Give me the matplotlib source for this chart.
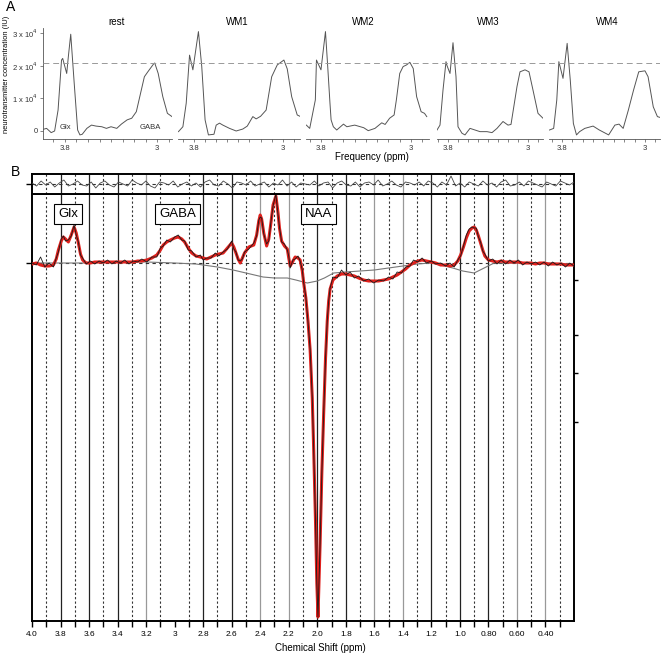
import numpy as np
import matplotlib.pyplot as plt
from matplotlib.ticker import MultipleLocator

plt.rcParams['font.family'] = ['Liberation Sans', 'DejaVu Sans']

# ---------------- panel A data (x 10^4 IU vs ppm) ----------------
conditions = ['rest', 'WM1', 'WM2', 'WM3', 'WM4']

rest_ppm = [3.99, 3.96, 3.92, 3.89, 3.86, 3.83, 3.82, 3.785, 3.77, 3.75, 3.72, 3.69, 3.67, 3.65, 3.61,
            3.57, 3.53, 3.48, 3.44, 3.40, 3.35, 3.31, 3.26, 3.22, 3.18, 3.15, 3.11, 3.08, 3.03, 3.02,
            2.99, 2.95, 2.91, 2.87]
rest_val = [0.05, 0.08, -0.05, 0.0, 0.64, 2.17, 2.22, 1.76, 2.3, 2.96, 1.47, 0.03, -0.12, -0.10, 0.08,
            0.18, 0.15, 0.13, 0.08, 0.13, 0.08, 0.21, 0.34, 0.39, 0.59, 1.05, 1.66, 1.81, 2.05, 2.08,
            1.76, 1.05, 0.54, 0.44]

wm1_ppm = [3.94, 3.90, 3.87, 3.84, 3.81, 3.76, 3.73, 3.70, 3.67, 3.62, 3.60, 3.57, 3.54, 3.48, 3.42,
           3.36, 3.32, 3.27, 3.24, 3.20, 3.15, 3.10, 3.05, 2.99, 2.96, 2.92, 2.87, 2.84]
wm1_val = [-0.02, 0.13, 0.85, 2.32, 1.87, 3.04, 1.97, 0.34, -0.12, -0.10, 0.18, 0.24, 0.18, 0.08, 0.0,
           0.06, 0.15, 0.44, 0.37, 0.45, 0.64, 1.66, 2.02, 2.17, 1.90, 1.05, 0.49, 0.44]

wm2_ppm = [3.93, 3.90, 3.85, 3.84, 3.80, 3.76, 3.74, 3.72, 3.71, 3.69, 3.66, 3.60, 3.57, 3.50, 3.42,
           3.38, 3.32, 3.26, 3.23, 3.19, 3.15, 3.13, 3.10, 3.07, 3.04, 3.01, 2.98, 2.95, 2.91, 2.88, 2.86]
wm2_val = [0.18, 0.08, 0.95, 2.17, 1.87, 3.04, 1.97, 0.85, 0.34, 0.13, 0.03, 0.21, 0.13, 0.18, 0.10,
           0.01, 0.08, 0.25, 0.20, 0.39, 0.49, 0.95, 1.76, 1.97, 2.02, 2.10, 1.91, 1.05, 0.59, 0.54, 0.44]

wm3_ppm = [3.91, 3.88, 3.85, 3.82, 3.81, 3.78, 3.75, 3.72, 3.70, 3.66, 3.63, 3.58, 3.53, 3.48, 3.41,
           3.36, 3.31, 3.25, 3.20, 3.17, 3.11, 3.08, 3.03, 2.99, 2.95, 2.90, 2.85]
wm3_val = [0.03, 0.18, 1.25, 2.12, 2.0, 1.76, 2.7, 1.66, 0.13, -0.07, -0.12, 0.08, 0.03, -0.02, -0.02,
           -0.05, 0.08, 0.29, 0.18, 0.20, 1.36, 1.81, 1.87, 1.81, 1.25, 0.54, 0.39]

wm4_ppm = [3.92, 3.88, 3.85, 3.83, 3.79, 3.75, 3.72, 3.69, 3.66, 3.63, 3.58, 3.50, 3.44, 3.35, 3.29,
           3.25, 3.21, 3.16, 3.11, 3.06, 3.00, 2.97, 2.92, 2.88, 2.85]
wm4_val = [0.03, 0.08, 0.95, 2.12, 1.61, 2.68, 1.56, 0.23, -0.12, -0.02, 0.08, 0.15, 0.03, -0.12, 0.18,
           0.21, 0.08, 0.64, 1.25, 1.81, 1.84, 1.66, 0.74, 0.44, 0.41]

a_ppm = [rest_ppm, wm1_ppm, wm2_ppm, wm3_ppm, wm4_ppm]
a_val = [rest_val, wm1_val, wm2_val, wm3_val, wm4_val]
ref_level = 2.08
a_yticks = [0, 1, 2, 3]
a_ylabels = ['0', r'1 x 10$^4$', r'2 x 10$^4$', r'3 x 10$^4$']

# ---------------- panel B data ----------------
fit_ppm = [4.00, 3.97, 3.94, 3.91, 3.88, 3.85, 3.83, 3.815, 3.795, 3.78,
           3.765, 3.745, 3.725, 3.705, 3.69, 3.675, 3.66, 3.645, 3.62, 3.59,
           3.56, 3.53, 3.50, 3.47, 3.44, 3.41, 3.38, 3.35, 3.32, 3.29,
           3.26, 3.23, 3.195, 3.16, 3.125, 3.10, 3.08, 3.055, 3.03, 3.00,
           2.975, 2.95, 2.93, 2.905, 2.88, 2.85, 2.82, 2.80, 2.775, 2.745,
           2.715, 2.69, 2.66, 2.63, 2.60, 2.585, 2.57, 2.555, 2.54, 2.525,
           2.51, 2.48, 2.445, 2.425, 2.41, 2.40, 2.39, 2.375, 2.355, 2.34,
           2.325, 2.31, 2.29, 2.275, 2.265, 2.25, 2.23, 2.21, 2.20, 2.19,
           2.17, 2.155, 2.135, 2.12, 2.105, 2.095, 2.08, 2.065, 2.05, 2.035,
           2.025, 2.012, 2.003, 1.995, 1.988, 1.98, 1.968, 1.955, 1.942, 1.93,
           1.92, 1.91, 1.89, 1.86, 1.83, 1.80, 1.77, 1.74, 1.71, 1.675,
           1.64, 1.605, 1.57, 1.535, 1.50, 1.47, 1.44, 1.41, 1.38, 1.35,
           1.325, 1.295, 1.265, 1.235, 1.20, 1.17, 1.135, 1.10, 1.07, 1.04,
           1.015, 0.995, 0.975, 0.955, 0.935, 0.915, 0.90, 0.885, 0.87, 0.855,
           0.84, 0.825, 0.80, 0.77, 0.74, 0.71, 0.68, 0.65, 0.62, 0.59,
           0.56, 0.53, 0.50, 0.47, 0.44, 0.41, 0.38, 0.35, 0.32, 0.29,
           0.26, 0.23, 0.20]
fit_val = [-1, 0, -2, -3, -3, -2, 4, 13, 22, 26,
           24, 21, 28, 36, 30, 20, 9, 3, 0, 0,
           1, 1, 1, 1, 1, 1, 1, 1, 1, 1,
           2, 2, 3, 5, 8, 13, 18, 21, 23, 25,
           26, 24, 21, 15, 10, 7, 6, 5, 4, 6,
           8, 9, 10, 15, 20, 16, 10, 4, 0, 5,
           10, 16, 18, 28, 42, 48, 44, 30, 17, 24,
           40, 58, 67, 50, 35, 22, 17, 14, 5, -3,
           2, 6, 5, 3, -8, -20, -35, -58, -87, -135,
           -187, -260, -320, -354, -320, -280, -210, -150, -95, -58,
           -38, -26, -17, -13, -11, -11, -12, -13, -15, -17,
           -18, -18, -18, -17, -16, -14, -12, -9, -6, -2,
           0, 2, 3, 2, 1, 0, -2, -2, -3, -2,
           2, 8, 16, 25, 32, 35, 36, 33, 27, 20,
           13, 7, 3, 2, 1, 2, 1, 1, 1, 1,
           0, 0, 0, -1, 0, 0, -1, -1, -1, -1,
           -2, -2, -2]
data_noise = [1, -2, 8, -1, 3, -2, 1, -2, 2, 1,
              -2, 2, -1, 2, -2, 1, -1, 2, -1, 2,
              -2, 1, -1, 2, -2, 1, -1, 2, -2, 1,
              -1, 2, -2, 1, -2, 2, -1, 2, -2, 1,
              2, -1, 1, -2, 2, -1, 2, -2, 1, -1,
              2, -2, 1, -1, 2, -2, 1, -1, 2, -1,
              1, -2, 2, -1, 1, -2, 1, -1, 2, -2,
              1, -1, 2, -2, 1, -1, 2, -1, 2, -2,
              1, -2, 2, -1, 1, 0, 1, -1, 1, 0,
              0, 0, 0, 0, 0, 0, 0, 0, 0, 0,
              0, 1, 3, -2, 4, -1, 3, -2, 2, -1,
              2, -2, 1, -1, 2, -2, 3, -1, 2, -1,
              3, -1, 2, -2, 1, -1, 2, -1, 3, -2,
              1, -1, 1, 3, 2, 1, -1, 2, -1, 1,
              -1, 2, -1, 2, -2, 1, -2, 2, -1, 2,
              -2, 1, -1, 2, -2, 1, -2, 2, -1, 1,
              -2, 2, -1]

base_ppm = [4.0, 3.8, 3.6, 3.4, 3.2, 3.0, 2.85, 2.8, 2.7, 2.59, 2.5, 2.38, 2.3, 2.21, 2.15, 2.07,
            2.0, 1.95, 1.885, 1.8, 1.7, 1.6, 1.5, 1.4, 1.3, 1.2, 1.135, 1.05, 0.98, 0.90, 0.83,
            0.76, 0.6, 0.4, 0.2]
base_val = [0, 0, 0, 1, 1, 0, -1, -2, -4, -7, -10, -14, -15, -15, -17, -20,
            -18, -15, -10, -9, -8, -7, -5, -3, -1, 0, -2, -5, -8, -10, -5,
            0, 0, 0, -1]

resid_val = [1, -2, 3, -1, 2, -3, 1, 4, -2, 0, 3, -1,
             -2, 2, -4, 1, 3, -1, -3, 2, 0, -2, 4, 1,
             -1, 3, -2, -4, 2, 1, -1, 3, -3, 0, 2, -2,
             1, -3, 2, 4, -1, -2, 3, 0, -4, 2, 1, -1,
             3, -2, 0, 2, -3, 1, -1, 4, -2, 2, -3, 1,
             0, -1, 3, -2, 1, 2, -4, 1, 3, -1, -2, 2,
             -3, 1, 2, -1, 4, -2, 0, 3, -1, -3, 2, 1,
             -1, 2, -2, 3, 1, -3, 2, -1, 8, -2, 1, -3,
             2, 0, -2, 3, -1, 1, -3, 2, 4, -2, -1, 2,
             -2, 3, 1, -1, -3, 2, 0, -2, 3, 1, -1, 2]

peak_names = ['Glx', 'GABA', 'NAA']
peak_ppm = [3.745, 2.98, 1.99]

b_major = [4.0, 3.8, 3.6, 3.4, 3.2, 3.0, 2.8, 2.6, 2.4, 2.2, 2.0, 1.8, 1.6, 1.4, 1.2, 1.0, 0.8, 0.6, 0.4]
b_labels = ['4.0', '3.8', '3.6', '3.4', '3.2', '3', '2.8', '2.6', '2.4', '2.2', '2.0', '1.8', '1.6',
            '1.4', '1.2', '1.0', '0.80', '0.60', '0.40']
b_minor = [3.9, 3.7, 3.5, 3.3, 3.1, 2.9, 2.7, 2.5, 2.3, 2.1, 1.9, 1.7, 1.5, 1.3, 1.1, 0.9, 0.7, 0.5, 0.3]
solid_ppm = [3.8, 3.6, 3.4, 3.2, 2.8, 2.6, 2.4, 2.2, 2.0, 1.8, 1.6, 1.4, 1.2, 1.0, 0.8, 0.6, 0.4]
solid_col = ['#222', '#222', '#222', '#999', '#222', '#222', '#999', '#999', '#222', '#222',
             '#999', '#999', '#222', '#222', '#222', '#999', '#999']
right_ticks = [-17, -72, -110, -159]

W, H = 663, 657
fig = plt.figure(figsize=(W / 100, H / 100), dpi=100)


def px_axes(x0, y0, x1, y1):
    return fig.add_axes([x0 / W, 1 - y1 / H, (x1 - x0) / W, (y1 - y0) / H])


# ---------------- panel A ----------------
a_left = [43, 178, 306, 437, 549]
a_right = [172, 300, 429, 543, 660]
a_xlim = [(3.991, 2.870), (3.944, 2.845), (3.933, 2.840), (3.91, 2.85), (3.925, 2.855)]
title_x = [117, 237, 363, 488, 607]
a_ylim = (-0.245, 3.15)

for i in range(5):
    ax = px_axes(a_left[i], 28, a_right[i], 139)
    ax.plot(a_ppm[i], a_val[i], color='#555555', lw=0.7)
    ax.set_xlim(*a_xlim[i])
    ax.set_ylim(*a_ylim)
    ax.patch.set_visible(False)
    for s in ['top', 'right']:
        ax.spines[s].set_visible(False)
    ax.spines['bottom'].set_color('#555555')
    ax.spines['bottom'].set_linewidth(0.6)
    ax.set_xticks([3.8, 3.0])
    ax.set_xticklabels(['3.8', '3'])
    ax.xaxis.set_minor_locator(MultipleLocator(0.1))
    ax.tick_params(axis='x', which='both', direction='out', length=2, width=0.5,
                   colors='#555555', labelsize=5.5, pad=2, labelcolor='#333333')
    if i == 0:
        ax.spines['left'].set_color('#555555')
        ax.spines['left'].set_linewidth(0.6)
        ax.set_yticks(a_yticks)
        ax.set_yticklabels(a_ylabels)
        ax.tick_params(axis='y', direction='out', length=2, width=0.5, colors='#555555',
                       labelsize=5.5, pad=2, labelcolor='#333333')
        ax.text(3.8, 0.12, 'Glx', ha='center', va='center', fontsize=5.5, color='#333333')
        ax.text(3.06, 0.12, 'GABA', ha='center', va='center', fontsize=5.5, color='#333333')
    else:
        ax.spines['left'].set_visible(False)
        ax.set_yticks([])
    fig.text(title_x[i] / W, 1 - 22 / H, conditions[i], ha='center', va='center', fontsize=7)

ax_over = px_axes(43, 28, 660, 139)
ax_over.set_ylim(*a_ylim)
ax_over.axhline(ref_level, color='#999999', lw=0.7, dashes=(6, 4))
ax_over.axis('off')

fig.text(372 / W, 1 - 157 / H, 'Frequency (ppm)', ha='center', va='center', fontsize=7)
fig.text(7 / W, 1 - 74 / H, 'neurotransmitter concentration (IU)', ha='center', va='center',
         rotation=90, fontsize=5.4)
fig.text(11 / W, 1 - 7 / H, 'A', ha='center', va='center', fontsize=10)
fig.text(15 / W, 1 - 172 / H, 'B', ha='center', va='center', fontsize=10)

# ---------------- panel B ----------------
axB = px_axes(32, 194, 574, 621)
axR = px_axes(32, 174, 574, 194)

for ax in (axB, axR):
    ax.set_xlim(4.0, 0.2)
    for p, c in zip(solid_ppm, solid_col):
        ax.axvline(p, color=c, lw=0.9, zorder=1)
    for p in b_minor:
        ax.axvline(p, color='#333333', lw=0.8, ls=(0, (2, 2)), zorder=1)
    ax.axhline(0, color='#333333', lw=0.8, ls=(0, (3, 3)), zorder=1)
    for s in ax.spines.values():
        s.set_linewidth(1.4)
        s.set_color('black')

fit_arr = np.array(fit_val, dtype=float)
data_arr = fit_arr + np.array(data_noise, dtype=float)
axB.plot(base_ppm, base_val, color='#777777', lw=0.8, zorder=2)
axB.plot(fit_ppm, fit_arr, color='#e0201c', lw=2.2, zorder=3, solid_joinstyle='round')
axB.plot(fit_ppm, data_arr, color='#1a1a1a', lw=0.6, zorder=4)
axB.set_ylim(-358, 69)

for name, p in zip(peak_names, peak_ppm):
    axB.text(p, 49, name, ha='center', va='center', fontsize=9.5, zorder=6,
             bbox=dict(boxstyle='square,pad=0.3', fc='white', ec='black', lw=0.8))

axB.set_xticks(b_major)
axB.set_xticklabels(b_labels)
axB.set_xticks(b_minor, minor=True)
axB.tick_params(axis='x', which='both', direction='out', length=4, width=1, labelsize=6, pad=3)
axB.set_yticks([0])
axB.set_yticklabels([])
axB.tick_params(axis='y', direction='out', length=4, width=1)
fig.text(320 / W, 1 - 648 / H, 'Chemical Shift (ppm)', ha='center', va='center', fontsize=7)

axB2 = axB.twinx()
axB2.set_ylim(-358, 69)
axB2.set_yticks(right_ticks)
axB2.set_yticklabels([])
axB2.tick_params(axis='y', direction='out', length=3, width=1)
for s in axB2.spines.values():
    s.set_visible(False)

resid_ppm = np.linspace(4.0, 0.2, len(resid_val))
axR.plot(resid_ppm, resid_val, color='#444444', lw=0.6, zorder=3)
axR.set_ylim(-10, 10)
axR.set_xticks([])
axR.set_yticks([0])
axR.set_yticklabels([])
axR.tick_params(axis='y', direction='out', length=4, width=1)

fig.savefig('out.png', dpi=100)
